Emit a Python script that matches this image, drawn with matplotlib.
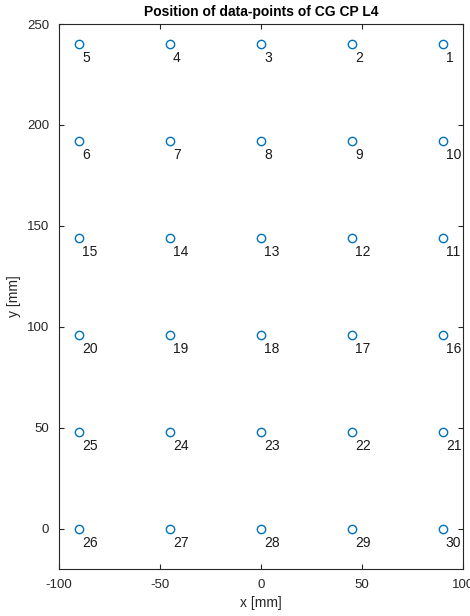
import matplotlib
matplotlib.use("Agg")
import matplotlib.pyplot as plt

# positions of the measuring points, numbered 1..30
point_ids = list(range(1, 31))
x_pts = [90, 45, 0, -45, -90,
         -90, -45, 0, 45, 90,
         90, 45, 0, -45, -90,
         90, 45, 0, -45, -90,
         90, 45, 0, -45, -90,
         -90, -45, 0, 45, 90]
y_pts = [240, 240, 240, 240, 240,
         192, 192, 192, 192, 192,
         144, 144, 144, 144, 144,
         96, 96, 96, 96, 96,
         48, 48, 48, 48, 48,
         0, 0, 0, 0, 0]

x_ticks = [-100, -50, 0, 50, 100]
y_ticks = [0, 50, 100, 150, 200, 250]

plt.rcParams['font.family'] = ['Liberation Sans', 'DejaVu Sans']
plt.rcParams['axes.unicode_minus'] = False

fig = plt.figure(figsize=(4.7, 6.16), dpi=100)
ax = fig.add_axes([0.1255, 0.0763, 0.8595, 0.8847])

ax.plot(x_pts, y_pts, 'o', linestyle='none', mfc='none', mec='#0072BD',
        ms=6, mew=1.0)

for pid, x, y in zip(point_ids, x_pts, y_pts):
    ax.text(x + 1.5, y - 7, str(pid), fontsize=10, color='#1a1a1a',
            ha='left', va='center', clip_on=True)

ax.set_xlim(-100, 100)
ax.set_ylim(-20, 250)
ax.set_xticks(x_ticks)
ax.set_yticks(y_ticks)

for s in ax.spines.values():
    s.set_color('#262626')
    s.set_linewidth(0.8)
ax.tick_params(direction='in', length=3.5, width=0.8, colors='#262626',
               labelsize=9.5, top=True, right=True, pad=7)

ax.set_xlabel('x [mm]', fontsize=10, color='#262626', labelpad=4)
ax.set_ylabel('y [mm]', fontsize=10, color='#262626', labelpad=4)
ax.set_title('Position of data-points of CG CP L4', fontsize=10,
             fontweight='bold', pad=6)

fig.savefig('out.png', dpi=100)
